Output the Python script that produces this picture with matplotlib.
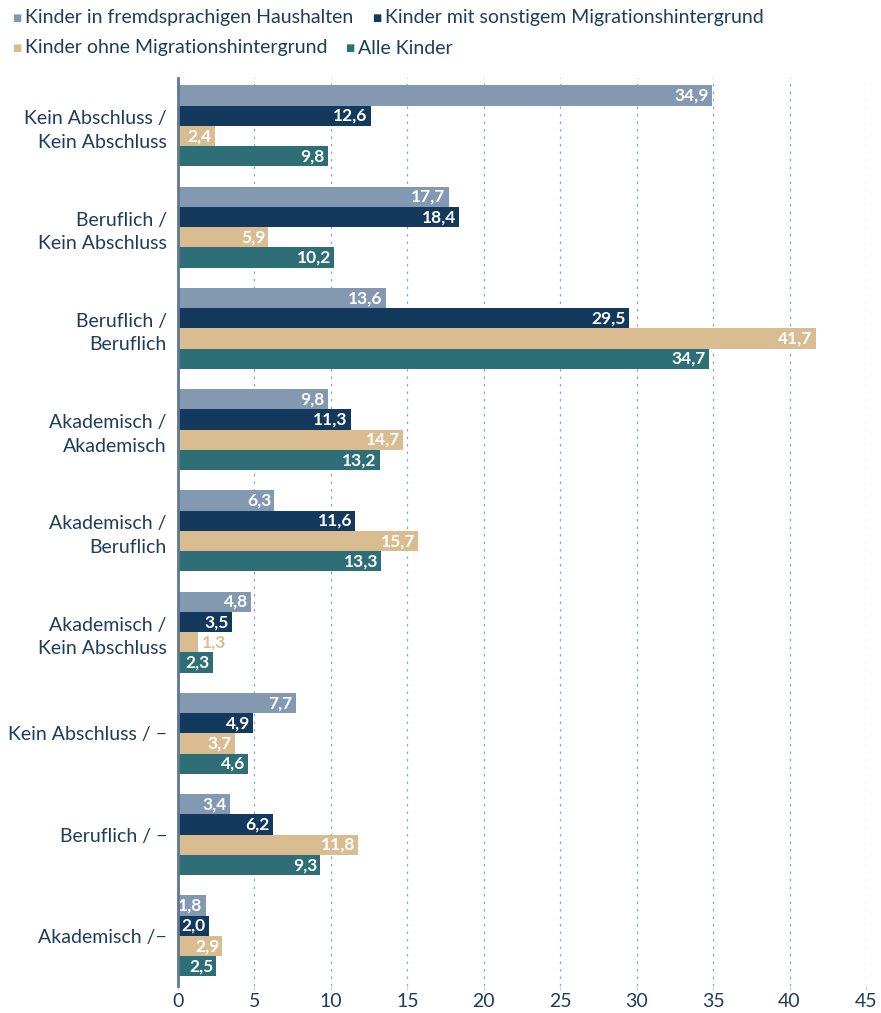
import numpy as np
import matplotlib
matplotlib.use("Agg")
import matplotlib.pyplot as plt

# categories (top to bottom)
categories = ["Kein Abschluss /\nKein Abschluss", "Beruflich /\nKein Abschluss",
              "Beruflich /\nBeruflich", "Akademisch /\nAkademisch",
              "Akademisch /\nBeruflich", "Akademisch /\nKein Abschluss",
              "Kein Abschluss / \u2212", "Beruflich / \u2212", "Akademisch /\u2212"]

series_names = ["Kinder in fremdsprachigen Haushalten",
                "Kinder mit sonstigem Migrationshintergrund",
                "Kinder ohne Migrationshintergrund",
                "Alle Kinder"]

fremdsprachig = [34.9, 17.7, 13.6, 9.8, 6.3, 4.8, 7.7, 3.4, 1.8]
sonstig_migr = [12.6, 18.4, 29.5, 11.3, 11.6, 3.5, 4.9, 6.2, 2.0]
ohne_migr = [2.4, 5.9, 41.7, 14.7, 15.7, 1.3, 3.7, 11.8, 2.9]
alle = [9.8, 10.2, 34.7, 13.2, 13.3, 2.3, 4.6, 9.3, 2.5]

colors = ["#8399b1", "#133a5c", "#d9bd91", "#2e6e77"]
text_col = "#1d3d5c"

plt.rcParams['font.family'] = ["Lato", 'DejaVu Sans']

fig = plt.figure(figsize=(8.81, 10.13), dpi=100)
ax = fig.add_axes([178/881, 1 - 986/1013, (866 - 178)/881, (986 - 78)/1013])

bar_h = 0.2
y = np.arange(len(categories))
series = [fremdsprachig, sonstig_migr, ohne_migr, alle]
for k, (vals, col) in enumerate(zip(series, colors)):
    pos = y - 0.3 + k*bar_h
    ax.barh(pos, vals, height=bar_h, color=col, zorder=3)
    for p, v in zip(pos, vals):
        lbl = f"{v:.1f}".replace(".", ",")
        if v < 1.5:
            ax.text(v + 0.25, p, lbl, color=col, fontsize=12.5, fontweight="bold",
                    ha="left", va="center", zorder=4)
        else:
            ax.text(v - 0.2, p, lbl, color="white", fontsize=12.5, fontweight="bold",
                    ha="right", va="center", zorder=4)

ax.set_xlim(0, 45)
ax.set_ylim(len(categories) - 1 + 0.494, -0.474)
ax.set_xticks(np.arange(0, 46, 5))
ax.set_yticks(y)
ax.set_yticklabels(categories, fontsize=14, color=text_col, ha="right", linespacing=1.45)
ax.tick_params(axis="y", length=0, pad=8)
ax.tick_params(axis="x", length=3, color="#c5d0dc", labelsize=14, labelcolor=text_col, pad=2)
ax.xaxis.grid(True, linestyle=(0, (2, 4)), color="#8fa6c4", linewidth=0.9, zorder=0)
for s in ["top", "right", "bottom"]:
    ax.spines[s].set_visible(False)
ax.spines["left"].set_color("#5d7893")
ax.spines["left"].set_linewidth(2)
ax.spines["left"].set_zorder(5)

# legend, two rows
leg_items = [(12, 18, 0), (372, 18, 1), (12, 48, 2), (345, 48, 3)]
for x0, y0, i in leg_items:
    fig.text(x0/881, 1 - y0/1013, "\u25A0", color=colors[i], fontsize=7,
             va="center", ha="left", family="DejaVu Sans")
    fig.text((x0 + 13)/881, 1 - y0/1013, series_names[i], color=text_col,
             fontsize=14, va="center", ha="left")

fig.savefig("out.png", dpi=100)
